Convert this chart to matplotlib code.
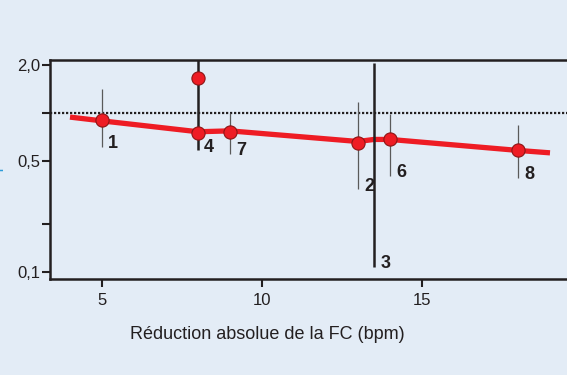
import numpy as np
import matplotlib
matplotlib.use('Agg')
import matplotlib.pyplot as plt
from matplotlib.ticker import NullLocator

plt.rcParams['font.family'] = ['Liberation Sans', 'DejaVu Sans']

# studies (odds ratio and 95% CI)
study_label = ['1', '4', '', '7', '2', '3', '6', '8']
study_x = [5, 8, 8, 9, 13, 13.5, 14, 18]
study_or = [0.90, 0.75, 1.66, 0.76, 0.65, np.nan, 0.68, 0.58]
ci_lo = [0.61, 0.58, np.nan, 0.55, 0.33, 0.107, 0.40, 0.39]
ci_hi = [1.42, 2.40, np.nan, 1.00, 1.17, 2.07, 0.99, 0.84]

# red trend line
fit_x = [4.0, 5.0, 8.0, 9.0, 13.0, 13.5, 14.0, 18.0, 19.0]
fit_or = [0.94, 0.89, 0.76, 0.77, 0.66, 0.68, 0.68, 0.58, 0.56]

y_ticks = [0.1, 0.2, 0.5, 1.0, 2.0]
y_ticklabels = ['0,1', '', '0,5', '', '2,0']
x_ticks = [5, 10, 15]

bg = '#e3ecf6'
ink = '#231f20'
red = '#ee1c24'
heavy = {'4', '3'}

fig = plt.figure(figsize=(5.67, 3.75), dpi=100)
fig.patch.set_facecolor(bg)
ax = fig.add_axes([50 / 567, 1 - 279 / 375, 560 / 567, 219 / 375])
ax.set_facecolor(bg)
ax.set_yscale('log')
ax.set_xlim(3.375, 5 + (610 - 102) / 32)
ax.set_ylim(0.09, 2.15)

for side in ['top', 'left', 'bottom']:
    ax.spines[side].set_linewidth(1.8)
    ax.spines[side].set_color(ink)
ax.spines['right'].set_visible(False)

ax.set_xticks(x_ticks)
ax.set_xticklabels([str(t) for t in x_ticks])
ax.set_yticks(y_ticks)
ax.set_yticklabels(y_ticklabels)
ax.yaxis.set_minor_locator(NullLocator())
ax.tick_params(axis='both', length=5.5, width=1.5, color=ink, labelcolor=ink, labelsize=12)
ax.tick_params(axis='y', pad=1.5)
ax.tick_params(axis='x', pad=4.5)

ax.axhline(1.0, color=ink, ls=(0, (1, 0.8)), lw=1.6, zorder=1)
ax.plot(fit_x, fit_or, color=red, lw=3.8, solid_capstyle='butt', zorder=2)

for lab, x, lo, hi in zip(study_label, study_x, ci_lo, ci_hi):
    if np.isnan(lo):
        continue
    if lab in heavy:
        ax.vlines(x, lo, hi, color=ink, lw=1.8, zorder=3)
    else:
        ax.vlines(x, lo, hi, color='#5a5a5a', lw=0.9, zorder=3)
    ax.annotate(lab, (x, lo), xytext=(4.5, -1), textcoords='offset points',
                ha='left', va='baseline', fontsize=13, fontweight='bold', color=ink)

ax.plot(study_x, study_or, 'o', ms=9.5, mfc=red, mec='#8c1515', mew=0.8, zorder=4)

ax.set_xlabel('Réduction absolue de la FC (bpm)', fontsize=13, color=ink)
ax.xaxis.set_label_coords((267 - 50) / 560, -0.215)

# y label, mostly cropped off the left edge as in the original
fig.text(-0.006, 0.595, 'Risque relatif', rotation=90, ha='center', va='center',
         fontsize=12, color='#2b9bd8')

fig.savefig('out.png', dpi=100, facecolor=bg)
